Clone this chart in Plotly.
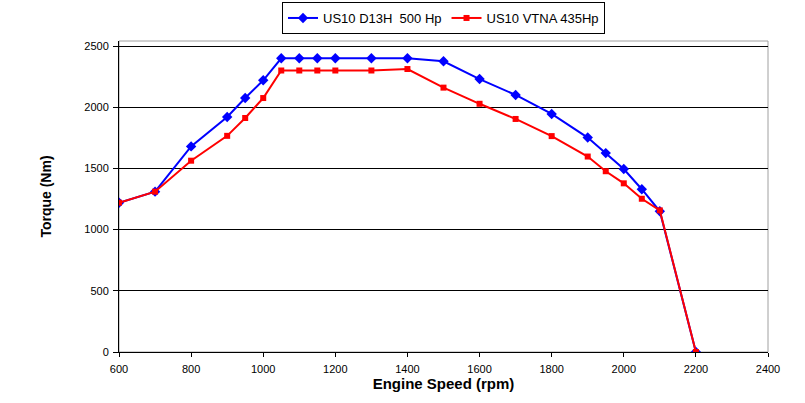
import plotly.graph_objects as go

rpm = [600, 700, 800, 900, 950, 1000, 1050, 1100, 1150, 1200, 1300, 1400,
       1500, 1600, 1700, 1800, 1900, 1950, 2000, 2050, 2100, 2200]
d13h = [1220, 1310, 1680, 1920, 2075, 2220, 2400, 2400, 2400, 2400, 2400, 2400,
        2375, 2230, 2100, 1945, 1752, 1625, 1495, 1330, 1150, 0]
vtna = [1220, 1310, 1563, 1766, 1912, 2075, 2300, 2300, 2300, 2300, 2300, 2312,
        2160, 2028, 1904, 1764, 1597, 1477, 1378, 1252, 1157, 0]
x_ticks = [600, 800, 1000, 1200, 1400, 1600, 1800, 2000, 2200, 2400]
y_ticks = [0, 500, 1000, 1500, 2000, 2500]

fig = go.Figure()
fig.add_trace(go.Scatter(
    x=rpm, y=d13h, name="US10 D13H  500 Hp", mode="lines+markers",
    line=dict(color="#0000FF", width=2),
    marker=dict(symbol="diamond", size=8, color="#0000FF")))
fig.add_trace(go.Scatter(
    x=rpm, y=vtna, name="US10 VTNA 435Hp", mode="lines+markers",
    line=dict(color="#FF0000", width=2),
    marker=dict(symbol="square", size=6, color="#FF0000")))

fig.update_layout(
    width=805, height=403,
    margin=dict(l=119, r=37, t=41, b=51, autoexpand=False),
    paper_bgcolor="white", plot_bgcolor="white",
    font=dict(family="Liberation Sans, Arial", size=11, color="black"),
    showlegend=True,
    legend=dict(orientation="h", x=0.5, xanchor="center",
                yref="container", y=0.995, yanchor="top",
                bordercolor="black", borderwidth=1, font=dict(size=13),
                itemwidth=30, tracegroupgap=0),
    shapes=[dict(type="rect", xref="paper", yref="paper", x0=0, x1=1, y0=0, y1=1,
                 line=dict(color="#A0A0A0", width=1), layer="below")],
)
fig.update_xaxes(
    range=[600, 2400], tickvals=x_ticks, ticktext=[str(v) for v in x_ticks],
    showgrid=False, showline=True, linecolor="black", linewidth=1,
    ticks="outside", ticklen=4, tickcolor="black", zeroline=False,
    ticklabelstandoff=3,
    title=dict(text="<b>Engine Speed (rpm)</b>", font=dict(size=15), standoff=0),
    tickfont=dict(size=11))
fig.update_yaxes(
    range=[0, 2541], tickvals=y_ticks,
    showgrid=True, gridcolor="black", gridwidth=1,
    showline=True, linecolor="black", linewidth=1,
    ticks="outside", ticklen=5, tickcolor="black", zeroline=False,
    ticklabelstandoff=2,
    title=dict(text="<b>Torque (Nm)</b>", font=dict(size=14), standoff=29),
    tickfont=dict(size=11))

fig.write_html("out.html", config={"displayModeBar": False},
               post_script="document.body.style.margin='0';")
